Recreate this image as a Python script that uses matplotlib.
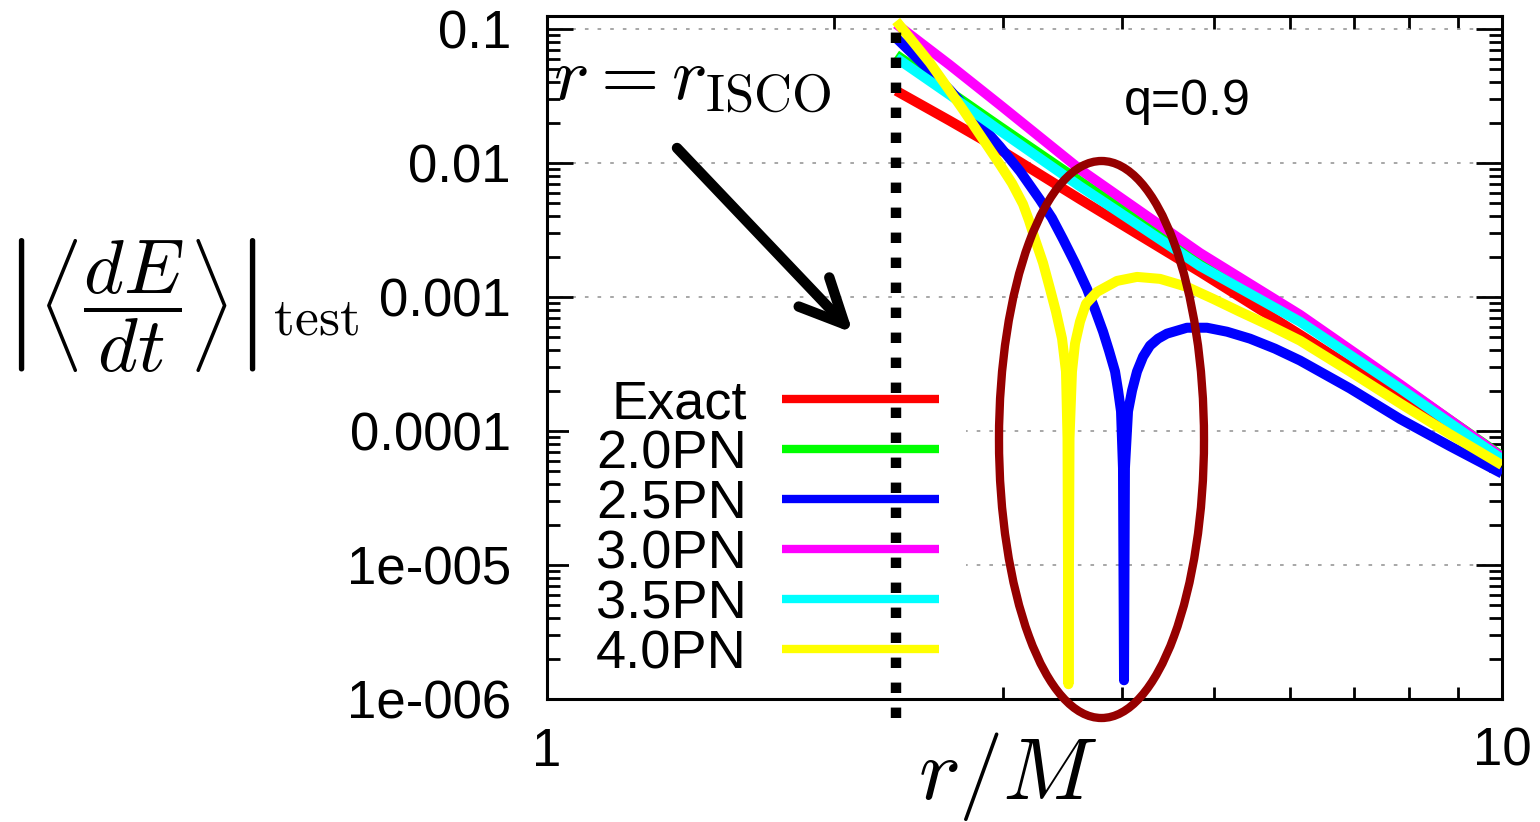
import matplotlib
matplotlib.use('Agg')
import matplotlib.pyplot as plt
from matplotlib.patches import Ellipse
from matplotlib.ticker import LogLocator, NullFormatter

plt.rcParams['font.family'] = ['Liberation Sans', 'DejaVu Sans']
plt.rcParams['mathtext.fontset'] = 'cm'

# energy flux of a test particle around a q=0.9 Kerr black hole, exact vs PN
r_isco = 2.321

r_exact = [r_isco, 2.64, 2.98, 3.615, 4.828, 6.144, 7.821, 10.0]
f_exact = [0.0346, 0.0207, 0.0126, 0.00537, 0.00154, 0.000524, 0.000175, 5.76e-5]

r_20 = [r_isco, 2.64, 2.98, 3.615, 4.828, 6.144, 7.821, 10.0]
f_20 = [0.0641, 0.0340, 0.0187, 0.0073, 0.001826, 0.000689, 0.000219, 6.50e-5]

r_25 = [r_isco, 2.64, 2.98, 3.129, 3.28, 3.379, 3.47, 3.572, 3.677, 3.749, 3.822,
        3.877, 3.934, 3.963, 3.991, 4.010, 4.020, 4.029, 4.059, 4.099, 4.148, 4.209,
        4.280, 4.364, 4.459, 4.679, 4.910, 5.153, 5.447, 5.784, 6.144, 6.931, 7.821,
        8.821, 10.0]
f_25 = [0.0857, 0.0352, 0.01329, 0.00866, 0.005365, 0.00388, 0.002706, 0.001795,
        0.001151, 0.000803, 0.000551, 0.000398, 0.000278, 0.000201, 0.0001403,
        5.29e-5, 1.38e-6, 5.29e-5, 0.0001403, 0.000201, 0.000278, 0.000359, 0.000434,
        0.000489, 0.000533, 0.000590, 0.000590, 0.000551, 0.000489, 0.000412,
        0.000336, 0.000208, 0.000123, 7.71e-5, 4.82e-5]

r_30 = [r_isco, 2.64, 2.98, 3.615, 4.828, 6.144, 7.821, 10.0]
f_30 = [0.1089, 0.0540, 0.0272, 0.00897, 0.00213, 0.000737, 0.000223, 6.39e-5]

r_35 = [r_isco, 2.64, 2.98, 3.615, 4.828, 6.144, 7.821, 10.0]
f_35 = [0.0609, 0.0323, 0.01747, 0.0067, 0.001705, 0.000654, 0.000208, 6.17e-5]

r_40 = [r_isco, 2.518, 2.727, 2.98, 3.069, 3.151, 3.196, 3.243, 3.307, 3.363, 3.412,
        3.462, 3.495, 3.508, 3.516, 3.525, 3.546, 3.572, 3.615, 3.668, 3.767, 3.953,
        4.148, 4.385, 4.679, 4.982, 5.317, 5.715, 6.144, 6.931, 7.821, 8.821, 10.0]
f_40 = [0.1147, 0.0559, 0.0250, 0.00976, 0.00705, 0.00493, 0.00375, 0.002706,
        0.001795, 0.001151, 0.000776, 0.000489, 0.000278, 8.84e-5, 1.29e-6, 8.84e-5,
        0.000278, 0.000449, 0.000654, 0.00089, 0.001093, 0.001319, 0.001413, 0.001366,
        0.00119, 0.00097, 0.000776, 0.000611, 0.000473, 0.000278, 0.000161, 9.47e-5,
        5.57e-5]

series = [
    ('Exact', r_exact, f_exact, '#ff0000'),
    ('2.0PN', r_20, f_20, '#00ff00'),
    ('2.5PN', r_25, f_25, '#0000ff'),
    ('3.0PN', r_30, f_30, '#ff00ff'),
    ('3.5PN', r_35, f_35, '#00ffff'),
    ('4.0PN', r_40, f_40, '#ffff00'),
]

ytick_vals = [1e-6, 1e-5, 1e-4, 1e-3, 1e-2, 1e-1]
ytick_labels = ['1e-006', '1e-005', '0.0001', '0.001', '0.01', '0.1']

fig = plt.figure(figsize=(15.4, 8.22), dpi=100)
ax = fig.add_axes([0.3552, 0.1496, 0.6201, 0.8309])

for label, r, f, c in series:
    ax.plot(r, f, color=c, lw=7.2, label=label, solid_capstyle='butt',
            solid_joinstyle='round', zorder=3)

ax.set_xscale('log')
ax.set_yscale('log')
ax.set_xlim(1, 10)
ax.set_ylim(1e-6, 0.125)

ax.set_xticks([1, 10], ['1', '10'])
ax.xaxis.set_minor_locator(LogLocator(base=10, subs=range(2, 10)))
ax.xaxis.set_minor_formatter(NullFormatter())
ax.set_yticks(ytick_vals, ytick_labels)
ax.yaxis.set_minor_locator(LogLocator(base=10, subs=range(2, 10), numticks=20))
ax.yaxis.set_minor_formatter(NullFormatter())

ax.tick_params(which='both', direction='in', top=True, right=True,
               labelsize=38, width=2)
ax.tick_params(axis='y', which='major', length=19, pad=26)
ax.tick_params(axis='y', which='minor', length=9.5)
ax.tick_params(axis='x', which='major', length=19, pad=20)
ax.tick_params(axis='x', which='minor', length=9)
for s in ax.spines.values():
    s.set_linewidth(2.2)
    s.set_zorder(2.5)

ax.yaxis.grid(True, which='major', color='#a0a0a0', lw=1.3, linestyle=(0, (2, 5)))
ax.set_axisbelow(True)

# ISCO marker
ax.axvline(r_isco, ymin=-0.028, ymax=0.997, color='black', lw=7.5,
           linestyle=(0, (1.0, 1.4)), dash_capstyle='butt', clip_on=False, zorder=7)

leg = ax.legend(loc='upper right', bbox_to_anchor=(966 / 1540, 1 - 352 / 822),
                bbox_transform=fig.transFigure, markerfirst=False, fontsize=39,
                handlelength=2.9, handletextpad=0.65, labelspacing=0.0,
                borderpad=0.5, borderaxespad=0, frameon=True, fancybox=False,
                facecolor='white', framealpha=1)
leg.get_frame().set_linewidth(0)
leg.set_zorder(2.4)
for h in leg.get_lines():
    h.set_linewidth(6)

ax.set_xlabel(r'$r/M$', fontsize=64)
ax.xaxis.set_label_coords(0.4827, -0.045)
ax.set_ylabel(r'$\left|\left\langle\dfrac{dE}{dt}\right\rangle\right|_{\mathrm{test}}$',
              fontsize=55, rotation=0, ha='left', va='center')
ax.yaxis.set_label_coords(-0.5707, 0.577)

fig.text(553 / 1540, 1 - 100 / 822, r'$r = r_{\mathrm{ISCO}}$', fontsize=54,
         ha='left', va='baseline')
fig.text(1187 / 1540, 1 - 102 / 822, 'q=0.9', fontsize=36, ha='center', va='center')

ax.annotate('', xy=(853 / 1540, 1 - 333 / 822), xytext=(677 / 1540, 1 - 148 / 822),
            xycoords='figure fraction', textcoords='figure fraction',
            arrowprops=dict(arrowstyle='->,head_length=0.8,head_width=0.38',
                            mutation_scale=40, lw=7.5, color='black',
                            shrinkA=0, shrinkB=0, capstyle='round', joinstyle='round'))

fig.add_artist(Ellipse((1101.5 / 1540, 1 - 439.5 / 822), 205 / 1540, 557 / 822,
                       transform=fig.transFigure, fill=False, ec='#960000', lw=6))

fig.savefig('out.png', dpi=100)
